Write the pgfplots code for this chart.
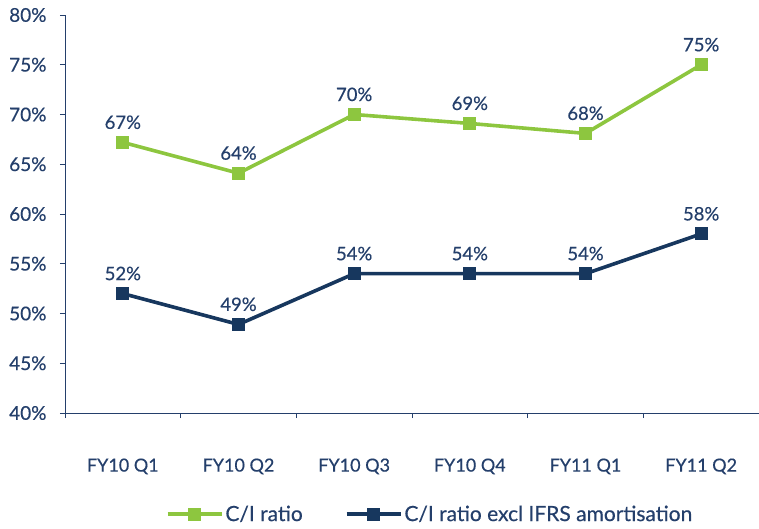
\documentclass[border=0pt]{standalone}
\usepackage{pgfplots}
\pgfplotsset{compat=1.18}
\usepackage{fontspec}
\setmainfont{Lato}[FakeBold=0.4]
\definecolor{navy}{HTML}{17375E}
\definecolor{txt}{HTML}{243F6B}
\definecolor{lgreen}{HTML}{8DC63F}
\begin{document}
\begin{tikzpicture}
\begin{axis}[
  scale only axis,
  width=694pt, height=398pt,
  xmin=-0.5, xmax=5.5,
  ymin=40, ymax=80,
  ytick={40,45,...,80},
  yticklabel={\pgfmathprintnumber{\tick}\%},
  /pgf/number format/assume math mode=true,
  axis x line*=bottom, axis y line*=left,
  axis line style={draw=txt, line width=0.8pt},
  every tick/.style={draw=txt, line width=0.8pt},
  tick align=outside,
  major tick length=5pt,
  ytick style={draw=txt},
  xtick={0,...,5},
  xticklabels={FY10 Q1,FY10 Q2,FY10 Q3,FY10 Q4,FY11 Q1,FY11 Q2},
  xtick style={draw=none},
  extra x ticks={-0.5,0.5,1.5,2.5,3.5,4.5,5.5},
  extra x tick labels={},
  extra x tick style={xtick style={draw=txt, line width=0.8pt}},
  ticklabel style={font=\fontsize{18}{21}\selectfont, text=txt},
  yticklabel style={font=\fontsize{19}{22}\selectfont, xshift=-10pt},
  xticklabel style={yshift=-37pt},
  clip=false,
  nodes near coords,
  point meta=explicit symbolic,
  every node near coord/.append style={font=\fontsize{18.5}{21}\selectfont, text=txt, anchor=south, yshift=10pt},
  legend columns=2,
  legend style={draw=none, fill=none, at={(0.526,-0.254)}, anchor=center,
    font=\fontsize{21}{24}\selectfont, text=txt,
    /tikz/every even column/.append style={column sep=40pt}},
  legend image code/.code={\draw[mark repeat=2,mark phase=2,#1] plot coordinates {(0pt,0pt)(27pt,0pt)(54pt,0pt)};},
]
\addplot[color=lgreen, line width=3.6pt, mark=square*, mark size=6pt, mark options={line width=0pt, fill=lgreen}]
  coordinates {(0,67.2)[67\%] (1,64.1)[64\%] (2,70)[70\%] (3,69.1)[69\%] (4,68.1)[68\%] (5,75)[75\%]};
\addlegendentry{C/I ratio}
\addplot[color=navy, line width=3.6pt, mark=square*, mark size=6pt, mark options={line width=0pt, fill=navy}]
  coordinates {(0,52)[52\%] (1,48.9)[49\%] (2,54)[54\%] (3,54)[54\%] (4,54)[54\%] (5,58)[58\%]};
\addlegendentry{C/I ratio excl IFRS amortisation}
\end{axis}
\pgfresetboundingbox
\path (-65pt,-116pt) rectangle (694pt,413pt);
\end{tikzpicture}
\end{document}
